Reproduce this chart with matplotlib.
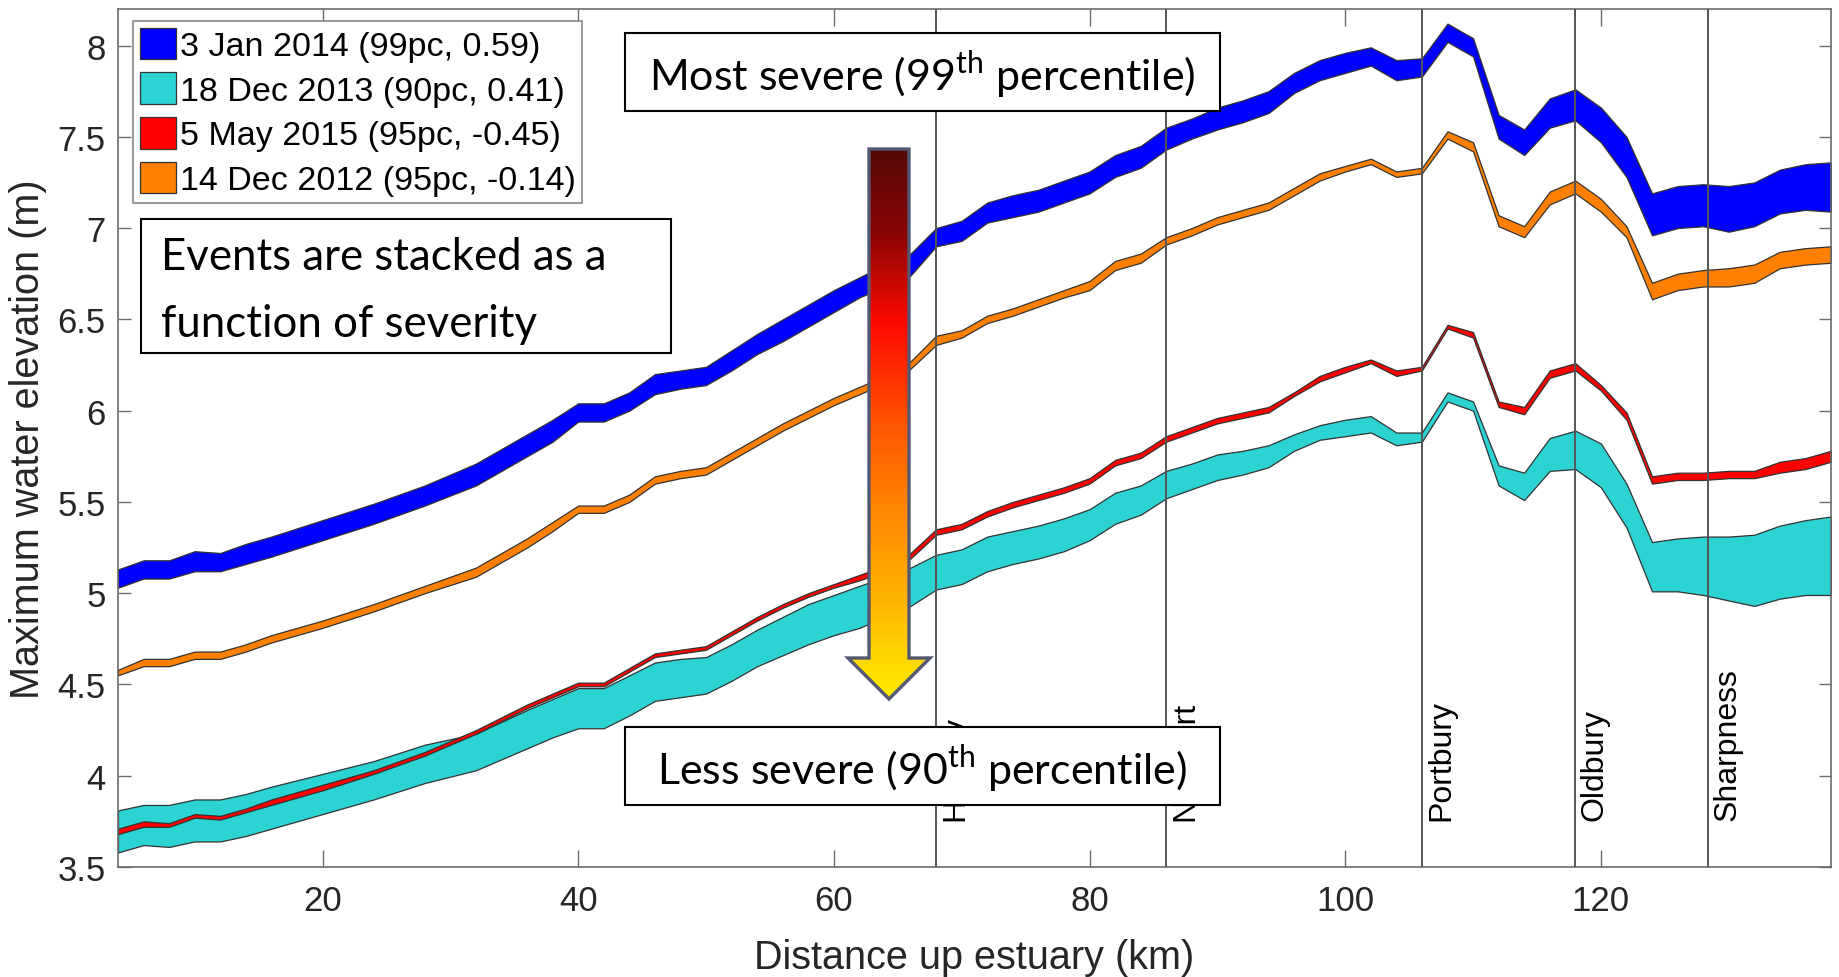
import numpy as np
import matplotlib
matplotlib.use('Agg')
import matplotlib.pyplot as plt
from matplotlib.patches import Rectangle, Polygon
from matplotlib.colors import LinearSegmentedColormap

# ---------------- data ----------------
distance_km = [4, 6, 8, 10, 12, 14, 16, 20, 24, 28, 32, 36, 38, 40, 42, 44, 46, 48, 50,
               52, 54, 56, 58, 60, 62, 64, 66, 68, 70, 72, 74, 76, 78, 80, 82, 84, 86,
               88, 90, 92, 94, 96, 98, 100, 102, 104, 106, 108, 110, 112, 114, 116, 118,
               120, 122, 124, 126, 128, 130, 132, 134, 136, 138]

jan2014_upper = [5.13, 5.18, 5.18, 5.23, 5.22, 5.27, 5.31, 5.40, 5.49, 5.59, 5.71, 5.87, 5.95,
                 6.04, 6.04, 6.10, 6.20, 6.22, 6.24, 6.33, 6.42, 6.50, 6.58, 6.66, 6.73, 6.80,
                 6.86, 7.00, 7.04, 7.14, 7.18, 7.21, 7.26, 7.31, 7.40, 7.45, 7.55, 7.60, 7.66,
                 7.70, 7.75, 7.85, 7.92, 7.96, 7.99, 7.92, 7.93, 8.12, 8.04, 7.62, 7.54, 7.71,
                 7.76, 7.66, 7.50, 7.19, 7.23, 7.24, 7.23, 7.25, 7.32, 7.35, 7.36]
jan2014_lower = [5.03, 5.08, 5.08, 5.12, 5.12, 5.16, 5.20, 5.29, 5.38, 5.48, 5.59, 5.75, 5.83,
                 5.94, 5.94, 6.00, 6.09, 6.12, 6.14, 6.22, 6.31, 6.38, 6.46, 6.54, 6.62, 6.68,
                 6.74, 6.90, 6.93, 7.03, 7.06, 7.09, 7.14, 7.19, 7.28, 7.33, 7.43, 7.49, 7.54,
                 7.58, 7.63, 7.74, 7.81, 7.85, 7.89, 7.81, 7.83, 8.02, 7.94, 7.49, 7.40, 7.55,
                 7.59, 7.47, 7.28, 6.96, 7.00, 7.01, 6.98, 7.01, 7.08, 7.10, 7.09]

dec2013_upper = [3.81, 3.84, 3.84, 3.87, 3.87, 3.90, 3.94, 4.01, 4.08, 4.17, 4.23, 4.36, 4.42,
                 4.48, 4.48, 4.55, 4.62, 4.64, 4.65, 4.72, 4.80, 4.87, 4.94, 4.99, 5.04, 5.09,
                 5.14, 5.21, 5.24, 5.31, 5.34, 5.37, 5.41, 5.46, 5.55, 5.59, 5.67, 5.71, 5.76,
                 5.78, 5.81, 5.87, 5.92, 5.95, 5.97, 5.88, 5.88, 6.10, 6.05, 5.70, 5.66, 5.85,
                 5.89, 5.82, 5.60, 5.28, 5.30, 5.31, 5.31, 5.32, 5.37, 5.40, 5.42]
dec2013_lower = [3.58, 3.62, 3.61, 3.64, 3.64, 3.67, 3.71, 3.79, 3.87, 3.96, 4.03, 4.15, 4.21,
                 4.26, 4.26, 4.33, 4.41, 4.43, 4.45, 4.52, 4.60, 4.66, 4.72, 4.77, 4.81, 4.87,
                 4.93, 5.02, 5.05, 5.12, 5.16, 5.19, 5.23, 5.29, 5.38, 5.43, 5.52, 5.57, 5.62,
                 5.65, 5.69, 5.78, 5.84, 5.86, 5.88, 5.81, 5.83, 6.05, 6.00, 5.59, 5.51, 5.67,
                 5.68, 5.58, 5.36, 5.01, 5.01, 4.99, 4.96, 4.93, 4.97, 4.99, 4.99]

may2015_upper = [3.71, 3.75, 3.74, 3.79, 3.78, 3.82, 3.87, 3.95, 4.03, 4.13, 4.25, 4.39, 4.45,
                 4.51, 4.51, 4.59, 4.67, 4.69, 4.71, 4.79, 4.87, 4.94, 5.00, 5.05, 5.10, 5.15,
                 5.22, 5.35, 5.38, 5.45, 5.50, 5.54, 5.58, 5.63, 5.73, 5.77, 5.86, 5.91, 5.96,
                 5.99, 6.02, 6.10, 6.19, 6.24, 6.28, 6.22, 6.24, 6.47, 6.43, 6.05, 6.02, 6.22,
                 6.26, 6.14, 5.99, 5.64, 5.66, 5.66, 5.67, 5.67, 5.72, 5.74, 5.78]
may2015_lower = [3.68, 3.72, 3.72, 3.77, 3.76, 3.80, 3.84, 3.92, 4.01, 4.11, 4.23, 4.37, 4.43,
                 4.49, 4.49, 4.57, 4.65, 4.67, 4.69, 4.77, 4.85, 4.92, 4.98, 5.03, 5.07, 5.12,
                 5.19, 5.32, 5.35, 5.42, 5.47, 5.51, 5.55, 5.60, 5.70, 5.74, 5.83, 5.88, 5.93,
                 5.96, 5.99, 6.08, 6.16, 6.21, 6.26, 6.19, 6.22, 6.45, 6.40, 6.02, 5.98, 6.18,
                 6.22, 6.11, 5.95, 5.60, 5.62, 5.62, 5.63, 5.63, 5.66, 5.68, 5.72]

dec2012_upper = [4.58, 4.64, 4.64, 4.68, 4.68, 4.72, 4.77, 4.85, 4.94, 5.04, 5.14, 5.30, 5.39,
                 5.48, 5.48, 5.54, 5.64, 5.67, 5.69, 5.77, 5.85, 5.93, 6.00, 6.07, 6.13, 6.19,
                 6.27, 6.41, 6.44, 6.52, 6.56, 6.61, 6.66, 6.71, 6.82, 6.86, 6.95, 7.00, 7.06,
                 7.10, 7.14, 7.22, 7.30, 7.34, 7.38, 7.31, 7.33, 7.53, 7.47, 7.07, 7.01, 7.20,
                 7.26, 7.16, 7.01, 6.70, 6.75, 6.77, 6.78, 6.80, 6.87, 6.89, 6.90]
dec2012_lower = [4.55, 4.60, 4.60, 4.64, 4.64, 4.68, 4.73, 4.81, 4.90, 5.00, 5.09, 5.25, 5.34,
                 5.44, 5.44, 5.50, 5.60, 5.63, 5.65, 5.73, 5.81, 5.89, 5.96, 6.03, 6.09, 6.15,
                 6.23, 6.36, 6.40, 6.48, 6.52, 6.57, 6.62, 6.66, 6.77, 6.81, 6.91, 6.96, 7.02,
                 7.06, 7.10, 7.18, 7.26, 7.31, 7.35, 7.28, 7.30, 7.49, 7.42, 7.01, 6.95, 7.13,
                 7.19, 7.09, 6.95, 6.61, 6.66, 6.68, 6.68, 6.70, 6.78, 6.80, 6.81]

event_labels = ['3 Jan 2014 (99pc, 0.59)', '18 Dec 2013 (90pc, 0.41)',
                '5 May 2015 (95pc, -0.45)', '14 Dec 2012 (95pc, -0.14)']
event_colors = ['#0000ff', '#2cd3d3', '#ff0000', '#ff8000']

site_names = ['Hinkley', 'Newport', 'Portbury', 'Oldbury', 'Sharpness']
site_km = [68, 86, 106, 118, 128.4]

x_ticks = [20, 40, 60, 80, 100, 120]
y_ticks = [3.5, 4, 4.5, 5, 5.5, 6, 6.5, 7, 7.5, 8]

# ---------------- figure ----------------
W, H = 1839, 978
fig = plt.figure(figsize=(W / 100, H / 100), dpi=100)
plt.rcParams['mathtext.fontset'] = 'custom'
plt.rcParams['mathtext.rm'] = 'Lato'

ax = fig.add_axes([118 / W, 1 - 868 / H, (1831 - 118) / W, (868 - 10) / H])
sans = 'Liberation Sans'

bands = [(jan2014_upper, jan2014_lower), (dec2013_upper, dec2013_lower),
         (may2015_upper, may2015_lower), (dec2012_upper, dec2012_lower)]
handles = []
for (up, lo), col, lab in zip(bands, event_colors, event_labels):
    h = ax.fill_between(distance_km, lo, up, facecolor=col, edgecolor='#333333',
                        linewidth=0.9, label=lab, zorder=2)
    handles.append(h)

for name, km in zip(site_names, site_km):
    ax.axvline(km, color='#555555', linewidth=1.4, zorder=3)
    ax.annotate(name, xy=(km, 3.76), xytext=(4, 0), textcoords='offset pixels',
                rotation=90, ha='left', va='bottom', fontsize=23, family=sans,
                color='black', zorder=3)

ax.set_xlim(4, 138)
ax.set_ylim(3.5, 8.2)
ax.set_xticks(x_ticks)
ax.set_xticklabels([str(t) for t in x_ticks])
ax.set_yticks(y_ticks)
ax.set_yticklabels(['%g' % t for t in y_ticks])
ax.tick_params(axis='x', direction='in', top=True, length=12, width=1, color='#6b6b6b',
               labelsize=25, labelcolor='#262626', pad=12)
ax.tick_params(axis='y', direction='in', right=True, length=9, width=1, color='#6b6b6b',
               labelsize=25, labelcolor='#262626', pad=9)
for lbl in ax.get_xticklabels() + ax.get_yticklabels():
    lbl.set_family(sans)
for sp in ax.spines.values():
    sp.set_color('#6b6b6b')
    sp.set_linewidth(1.2)

ax.set_xlabel('Distance up estuary (km)', fontsize=28.5, family=sans, color='#262626')
ax.set_ylabel('Maximum water elevation (m)', fontsize=28.5, family=sans, color='#262626')
ax.xaxis.set_label_coords(0.5, (868 - 958) / 858)
ax.xaxis.label.set_va('center')
ax.yaxis.set_label_coords((28 - 118) / 1713, 0.5)
ax.yaxis.label.set_va('center')

leg = ax.legend(handles=handles, labels=event_labels, loc='upper left',
                bbox_to_anchor=(133 / W, 1 - 22 / H), bbox_transform=fig.transFigure,
                borderaxespad=0, prop={'family': sans, 'size': 24.5},
                handlelength=1.05, handleheight=1.05, handletextpad=0.12,
                labelspacing=0.3, borderpad=0.2, fancybox=False, framealpha=1)
leg.get_frame().set_edgecolor('#888888')
leg.get_frame().set_linewidth(1.2)
leg.set_zorder(10)

# ---------------- annotation overlay (pixel coordinates) ----------------
ov = fig.add_axes([0, 0, 1, 1])
ov.set_xlim(0, W)
ov.set_ylim(H, 0)
ov.axis('off')
ov.patch.set_alpha(0)

box_font = 'Lato'
ov.add_patch(Rectangle((141, 220), 530, 134, facecolor='white', edgecolor='black', lw=1.5, zorder=5))
ov.text(161, 270, 'Events are stacked as a', fontsize=31.5, family=box_font, ha='left', va='baseline', zorder=6)
ov.text(161, 337, 'function of severity', fontsize=31.5, family=box_font, ha='left', va='baseline', zorder=6)

ov.add_patch(Rectangle((625, 34), 595, 78, facecolor='white', edgecolor='black', lw=1.5, zorder=5))
ov.text(922, 75, r'Most severe (99$^{\rm th}$ percentile)', fontsize=31, family=box_font,
        ha='center', va='center', zorder=6)
ov.add_patch(Rectangle((625, 728), 595, 78, facecolor='white', edgecolor='black', lw=1.5, zorder=5))
ov.text(922, 769, r'Less severe (90$^{\rm th}$ percentile)', fontsize=31, family=box_font,
        ha='center', va='center', zorder=6)

# gradient arrow
arrow_xy = [(869, 150), (909, 150), (909, 659), (930, 659), (889, 700),
            (848, 659), (869, 659)]
arrow = Polygon(arrow_xy, closed=True, facecolor='none', edgecolor='#525872',
                lw=2.4, zorder=8, joinstyle='miter')
cmap = LinearSegmentedColormap.from_list('sev', [
    (0.0, '#550808'), (0.15, '#8a0505'), (0.32, '#ff0a00'), (0.5, '#ff5500'),
    (0.65, '#ff8400'), (0.82, '#ffb400'), (1.0, '#ffec00')])
grad = np.linspace(0, 1, 256).reshape(-1, 1)
im = ov.imshow(grad, extent=(848, 930, 700, 150), cmap=cmap, aspect='auto',
               origin='upper', zorder=7, interpolation='bilinear')
clip = Polygon(arrow_xy, closed=True, transform=ov.transData)
im.set_clip_path(clip)
ov.add_patch(arrow)
ov.set_xlim(0, W)
ov.set_ylim(H, 0)

fig.savefig('out.png', dpi=100)
